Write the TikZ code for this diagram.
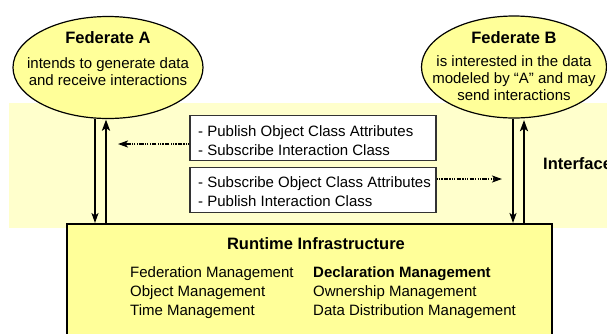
\documentclass[tikz,border=0pt]{standalone}
\usepackage{fontspec}
\setmainfont{Liberation Sans}
\usetikzlibrary{shapes.geometric,arrows.meta,calc}

\definecolor{bandyellow}{HTML}{FFFFCC}
\definecolor{boxyellow}{HTML}{FFFF99}
\definecolor{boxedge}{HTML}{333333}

\tikzset{
  fed/.style={ellipse, draw=black, line width=1.2pt, fill=boxyellow,
              minimum width=#1, minimum height=102pt, inner sep=0pt},
  title/.style={font=\fontsize{16.5}{19}\selectfont\bfseries, anchor=base, inner sep=0pt},
  body/.style={font=\fontsize{15}{18}\selectfont, inner sep=0pt},
  msgbox/.style={draw=boxedge, line width=1.1pt, fill=white,
                 minimum width=246pt, minimum height=45pt, inner sep=0pt},
  thinflow/.style={line width=1.5pt, -{Stealth[length=10pt,width=7pt,inset=2.5pt]}},
  thickflow/.style={line width=2.6pt, -{Stealth[length=11pt,width=8pt,inset=2.5pt]}},
  declflow/.style={line width=1.8pt,
                   dash pattern=on 1.2pt off 1.2pt on 1.2pt off 1.2pt on 1.2pt off 1.2pt on 4.5pt off 1.2pt,
                   -{Stealth[length=10pt,width=7pt,inset=2.5pt]}},
}

\begin{document}
\begin{tikzpicture}[x=1pt,y=-1pt]
  \clip (0,0) rectangle (607,333);
  \fill[white] (0,0) rectangle (607,333);

  % interface band
  \fill[bandyellow] (9,103) rectangle (620,228);

  % federates
  \node[fed=190pt] (A) at (108,67.5) {};
  \node[fed=185pt] (B) at (514,67) {};

  \node[title] (Atitle) at (108,43) {Federate A};
  \node[body, anchor=base] (Aline1) at (108,68) {intends to generate data};
  \node[body, anchor=base] (Aline2) at (108,85) {and receive interactions};

  \node[title] (Btitle) at (514,43) {Federate B};
  \node[body, anchor=base] (Bline1) at (514,66) {is interested in the data};
  \node[body, anchor=base] (Bline2) at (514,83) {modeled by “A” and may};
  \node[body, anchor=base] (Bline3) at (514,100) {send interactions};

  % runtime infrastructure
  \node[draw=black, line width=1.6pt, fill=boxyellow, anchor=north west,
        minimum width=485pt, minimum height=130pt, inner sep=0pt] (RTI) at (66,223) {};
  \node[title] (RTItitle) at (316,249) {Runtime Infrastructure};
  \node[body, anchor=base west] (fm) at (130,277) {Federation Management};
  \node[body, anchor=base west] (om) at (130,296) {Object Management};
  \node[body, anchor=base west] (tm) at (130,315) {Time Management};
  \node[body, anchor=base west, font=\fontsize{15}{18}\selectfont\bfseries] (dm) at (313,277) {Declaration Management};
  \node[body, anchor=base west] (owm) at (313,296) {Ownership Management};
  \node[body, anchor=base west] (ddm) at (313,315) {Data Distribution Management};

  % interface label
  \node[title, anchor=base west] (iface) at (543,169) {Interface};

  % declaration messages
  \node[msgbox] (m1) at (313,138) {};
  \node[body, anchor=base west] (m1a) at (198,136) {- Publish Object Class Attributes};
  \node[body, anchor=base west] (m1b) at (198,155) {- Subscribe Interaction Class};

  \node[msgbox] (m2) at (313,190) {};
  \node[body, anchor=base west] (m2a) at (198,187) {- Subscribe Object Class Attributes};
  \node[body, anchor=base west] (m2b) at (198,206) {- Publish Interaction Class};

  % vertical flows between federates and the RTI
  \coordinate (aDown) at (95,0);
  \coordinate (aUp) at (106,0);
  \coordinate (bDown) at (513,0);
  \coordinate (bUp) at (524,0);
  \draw[thinflow] ($(A.south -| aDown)+(0,-0.5)$) -- (RTI.north -| aDown);
  \draw[thickflow] (RTI.north -| aUp) -- ($(A.south -| aUp)+(0,0.5)$);
  \draw[thinflow, line width=2pt] ($(B.south -| bDown)+(0,0)$) -- (RTI.north -| bDown);
  \draw[thickflow] (RTI.north -| bUp) -- ($(B.south -| bUp)+(0,1.5)$);

  % dotted declaration arrows
  \coordinate (d1end) at (118,144);
  \coordinate (d2end) at (502,179);
  \draw[declflow] (m1.west |- d1end) -- (d1end);
  \draw[declflow] (m2.east |- d2end) -- (d2end);
\end{tikzpicture}
\end{document}
